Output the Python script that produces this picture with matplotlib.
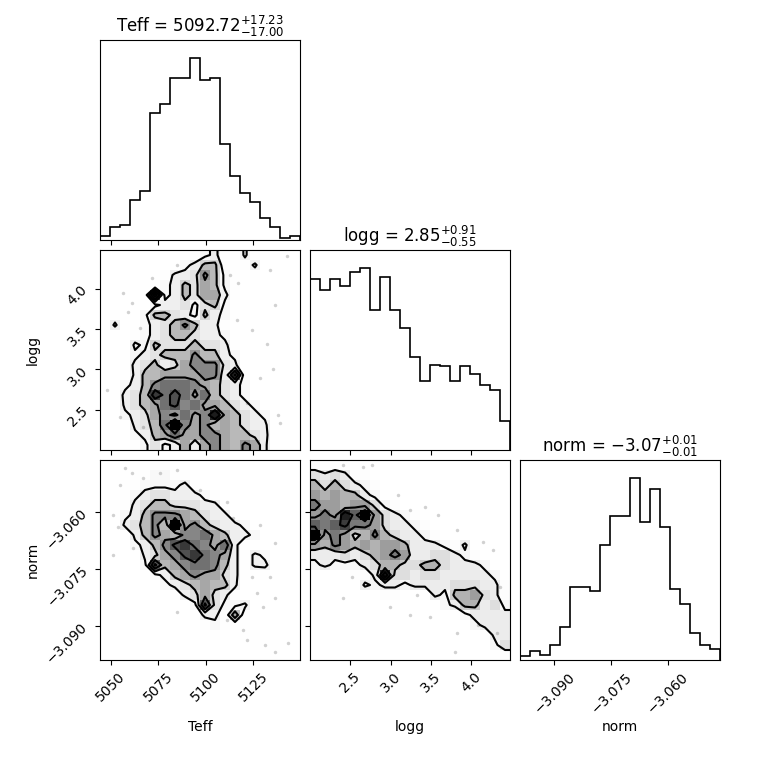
import numpy as np
import matplotlib
matplotlib.use("Agg")
import matplotlib.pyplot as plt
from matplotlib.colors import LinearSegmentedColormap
from matplotlib.ticker import FixedLocator, NullLocator, ScalarFormatter

# parameter names, titles, plot ranges and ticks
labels = ["Teff", "logg", "norm"]
titles = [r"Teff = $5092.72_{-17.00}^{+17.23}$",
          r"logg = $2.85_{-0.55}^{+0.91}$",
          r"norm = $-3.07_{-0.01}^{+0.01}$"]
ranges = [(5044.4, 5149.5), (2.001, 4.478), (-3.0991, -3.0463)]
ticks = [[5050, 5075, 5100, 5125], [2.5, 3.0, 3.5, 4.0], [-3.090, -3.075, -3.060]]

# 1D histograms (20 bins over each range)
teff_counts = [2, 7, 8, 22, 27, 70, 75, 89, 89, 100, 88, 89, 53, 35, 26, 21, 12, 7, 1, 2]
logg_counts = [94, 88, 94, 90, 98, 100, 77, 95, 77, 67, 51, 38, 47, 46, 38, 46, 42, 36, 33, 16]
norm_counts = [2, 5, 3, 8, 18, 40, 40, 38, 63, 79, 79, 100, 76, 94, 73, 39, 31, 15, 8, 6]

# 2D histograms, rows listed from the top of the panel (high y) down, columns left to right
teff_logg = [
    [0,0,0,0,1,0,0,0,0,1,2,3,1,0,3,0,1,0,0,0],
    [0,0,0,0,0,0,0,0,2,3,5,5,1,1,1,3,0,1,0,0],
    [0,0,0,0,0,0,1,3,3,4,7,5,2,1,0,1,0,0,0,0],
    [0,0,1,0,1,0,2,3,5,4,6,5,2,1,0,0,0,0,0,0],
    [0,0,0,0,1,10,2,3,5,4,6,6,3,1,0,0,1,0,0,0],
    [0,0,0,0,0,2,3,3,4,2,4,5,2,0,1,0,0,0,0,0],
    [0,1,0,0,2,5,5,4,3,2,5,3,2,1,0,0,0,0,0,0],
    [0,3,0,1,2,3,4,5,7,5,3,3,1,0,0,1,0,0,0,0],
    [0,0,0,1,2,3,4,5,5,4,3,3,2,0,1,0,0,0,0,0],
    [0,0,0,3,2,5,4,4,4,5,4,4,3,1,0,0,0,0,0,0],
    [0,0,1,2,3,4,5,5,5,7,5,5,3,2,0,0,1,0,0,0],
    [0,0,1,3,4,5,3,4,6,7,7,7,4,3,0,1,0,0,0,0],
    [1,0,0,3,5,5,6,6,6,6,7,7,3,9,1,0,0,0,0,0],
    [0,0,2,3,5,7,8,8,8,7,6,5,4,3,2,0,1,0,0,0],
    [0,1,3,4,5,10,8,9,8,6,8,5,4,3,2,0,0,0,0,0],
    [0,0,3,4,5,6,8,9,7,8,6,6,5,4,3,2,0,1,0,0],
    [0,0,2,3,4,6,7,6,8,6,7,11,6,5,4,3,2,0,0,0],
    [0,1,0,3,4,5,8,12,7,6,7,5,6,5,4,3,3,0,1,0],
    [0,0,0,2,3,5,6,8,6,6,7,7,6,5,5,4,3,1,0,0],
    [0,0,0,1,2,4,2,3,6,3,6,7,6,5,7,6,3,0,0,0],
]
teff_norm = [
    [0,0,0,1,0,1,1,0,0,0,0,0,0,0,0,0,0,0,0,0],
    [0,0,0,1,1,2,2,1,1,0,0,0,0,0,0,0,0,0,0,0],
    [0,0,1,1,2,2,2,2,3,1,0,0,0,0,0,0,0,0,0,0],
    [0,0,1,2,3,4,4,3,3,3,2,1,0,0,0,0,0,0,0,0],
    [0,1,1,3,4,5,5,4,4,4,3,3,1,0,0,0,0,0,0,0],
    [0,0,2,3,5,7,7,7,6,5,4,3,3,1,0,0,0,0,0,0],
    [0,0,3,4,5,7,5,12,6,7,5,4,3,3,2,0,0,0,0,0],
    [0,0,0,3,5,7,6,5,7,7,8,6,5,3,3,2,0,0,0,0],
    [0,0,0,2,3,5,7,9,10,8,7,6,8,3,1,0,0,0,0,0],
    [0,0,0,0,3,4,6,7,9,10,8,7,6,3,1,3,2,0,0,0],
    [0,0,0,0,2,9,5,6,7,8,8,7,5,3,1,3,3,1,0,0],
    [0,0,0,0,0,2,3,5,6,7,6,6,4,3,1,0,1,0,0,0],
    [0,0,0,0,0,0,2,3,4,5,6,5,5,3,0,0,0,0,0,0],
    [0,0,0,0,0,0,0,1,3,4,6,4,3,1,0,0,0,0,0,0],
    [0,0,0,0,0,0,0,0,0,2,9,4,2,2,3,0,0,0,0,0],
    [0,0,0,0,0,0,0,0,0,1,3,3,1,6,1,0,0,0,0,0],
    [0,0,0,0,0,0,0,0,0,0,1,2,1,1,1,0,0,0,0,0],
    [0,0,0,0,0,0,0,0,0,0,0,1,0,0,1,1,0,0,0,0],
    [0,0,0,0,0,0,0,0,0,0,0,0,0,0,0,1,1,1,0,0],
    [0,0,0,0,0,0,0,0,0,0,0,0,0,0,0,0,0,1,0,0],
]
logg_norm = [
    [1,0,1,1,0,0,0,0,0,0,0,0,0,0,0,0,0,0,0,0],
    [4,3,4,3,1,1,0,0,0,0,0,0,0,0,0,0,0,0,0,0],
    [5,4,5,4,3,2,1,0,0,0,0,0,0,0,0,0,0,0,0,0],
    [6,5,6,5,5,3,2,0,0,0,0,0,0,0,0,0,0,0,0,0],
    [7,6,6,5,6,6,4,2,1,0,0,0,0,0,0,0,0,0,0,0],
    [6,7,6,10,8,11,6,4,3,2,1,0,0,0,0,0,0,0,0,0],
    [8,7,8,9,7,7,6,4,3,3,2,1,0,0,0,0,0,0,0,0],
    [11,6,7,6,4,5,7,5,4,3,3,2,1,0,0,0,0,0,0,0],
    [6,5,7,6,5,6,5,6,6,5,3,3,3,2,1,3,0,0,0,0],
    [3,3,3,4,3,4,5,6,7,6,3,3,4,4,3,2,1,0,0,0],
    [2,3,2,2,2,3,4,5,5,4,4,5,5,4,3,3,3,2,0,0],
    [0,0,0,0,1,1,3,10,4,4,3,4,4,3,3,3,3,3,2,0],
    [0,0,0,0,0,3,2,3,3,2,3,3,3,3,4,4,4,3,3,1],
    [0,0,0,0,0,0,0,1,1,0,0,0,3,2,5,5,6,4,3,1],
    [0,0,0,0,0,0,0,0,0,0,0,0,0,2,3,5,5,3,4,2],
    [0,0,0,0,0,0,0,0,0,0,0,0,0,0,0,2,3,3,3,3],
    [0,0,0,0,0,0,0,0,0,0,0,0,0,0,0,0,2,3,3,3],
    [0,0,0,0,0,0,0,0,0,0,0,0,0,0,0,0,0,1,3,3],
    [0,0,0,0,0,0,0,0,0,0,0,0,0,0,0,0,0,0,2,4],
    [0,0,0,0,0,0,0,0,0,0,0,0,0,0,0,0,0,0,0,1],
]

# stray samples lying outside the contours
teff_logg_pts_x = [5056.7, 5061.0, 5059.3, 5065.4, 5054.9, 5067.2, 5116.2, 5124.1, 5112.7, 5117.1, 5142.5,
                   5133.7, 5136.4, 5128.5, 5135.5, 5138.1, 5139.0, 5084.7, 5071.6, 5047.9, 5121.5, 5132.0]
teff_logg_pts_y = [3.94, 3.82, 3.71, 3.51, 2.41, 2.29, 3.61, 3.49, 4.17, 4.07, 4.40,
                   4.23, 3.80, 2.89, 3.01, 2.43, 2.33, 4.29, 4.13, 2.74, 2.58, 3.32]
teff_norm_pts_x = [5057.5, 5061.0, 5054.9, 5051.4, 5054.0, 5051.4, 5061.9, 5067.2, 5075.9, 5084.7, 5097.0,
                   5111.0, 5114.5, 5128.5, 5136.4, 5133.7, 5124.1, 5126.7, 5136.4, 5130.2, 5111.0, 5119.7,
                   5121.5, 5131.1, 5136.4, 5143.4, 5084.7]
teff_norm_pts_y = [-3.0485, -3.0498, -3.0529, -3.0608, -3.0639, -3.0714, -3.0696, -3.0511, -3.0498, -3.0489,
                   -3.0542, -3.0573, -3.0617, -3.0635, -3.0683, -3.0771, -3.0771, -3.0815, -3.0828, -3.0850,
                   -3.0885, -3.0912, -3.0938, -3.0951, -3.0969, -3.0947, -3.0863]
logg_norm_pts_x = [2.414, 2.662, 2.765, 3.095, 3.239, 3.425, 3.590, 3.817, 4.148, 4.272, 4.354,
                   2.517, 2.414, 2.992, 3.322, 3.239, 3.487, 3.817, 4.086, 4.313, 3.797]
logg_norm_pts_y = [-3.0476, -3.0481, -3.0476, -3.0555, -3.0595, -3.0586, -3.0608, -3.0648, -3.0679, -3.0701,
                   -3.0797, -3.0771, -3.0828, -3.0850, -3.0819, -3.0872, -3.0877, -3.0921, -3.0899, -3.0921,
                   -3.0969]

hists = [teff_counts, logg_counts, norm_counts]
grids = {(1, 0): teff_logg, (2, 0): teff_norm, (2, 1): logg_norm}
points = {(1, 0): (teff_logg_pts_x, teff_logg_pts_y),
          (2, 0): (teff_norm_pts_x, teff_norm_pts_y),
          (2, 1): (logg_norm_pts_x, logg_norm_pts_y)}

# contour levels (in counts per bin) and the grey of each filled band
contour_levels = [2.5, 4.5, 6.5, 8.5]
fill_alpha = [0.0, 0.12, 0.2, 0.28]
grey_cmap = LinearSegmentedColormap.from_list("grey_cmap", [(1, 1, 1), (0, 0, 0)])


def hist2d(ax, grid, pts, xr, yr):
    H = np.array(grid, dtype=float)[::-1].T  # H[x, y]
    nx, ny = H.shape
    X = np.linspace(xr[0], xr[1], nx + 1)
    Y = np.linspace(yr[0], yr[1], ny + 1)

    # padded grid so contours close at the edges
    X1 = 0.5 * (X[1:] + X[:-1])
    Y1 = 0.5 * (Y[1:] + Y[:-1])
    H2 = np.zeros((nx + 4, ny + 4))
    H2[2:-2, 2:-2] = H
    H2[2:-2, 1] = H[:, 0]
    H2[2:-2, -2] = H[:, -1]
    H2[1, 2:-2] = H[0]
    H2[-2, 2:-2] = H[-1]
    H2[1, 1] = H[0, 0]
    H2[1, -2] = H[0, -1]
    H2[-2, 1] = H[-1, 0]
    H2[-2, -2] = H[-1, -1]
    dx = X1[1] - X1[0]
    dy = Y1[1] - Y1[0]
    X2 = np.concatenate([X1[0] - dx * np.array([2, 1]), X1, X1[-1] + dx * np.array([1, 2])])
    Y2 = np.concatenate([Y1[0] - dy * np.array([2, 1]), Y1, Y1[-1] + dy * np.array([1, 2])])

    shade = (H.T / H.max()) ** 2
    ax.pcolormesh(X, Y, shade, cmap=grey_cmap, vmin=0, vmax=1, zorder=0)
    ax.plot(pts[0], pts[1], "o", ms=2.5, mew=0, color="k", alpha=0.18, zorder=1)
    ax.contourf(X2, Y2, H2.T, contour_levels + [H.max() + 1],
                colors=[(0, 0, 0, a) for a in fill_alpha], antialiased=False, zorder=2)
    ax.contour(X2, Y2, H2.T, contour_levels, colors="k", linewidths=1.5, zorder=3)
    ax.set_xlim(xr)
    ax.set_ylim(yr)


K = 3
fig, axes = plt.subplots(K, K, figsize=(7.6, 7.6))
lb = 1.0 / 7.6
tr = 7.2 / 7.6
fig.subplots_adjust(left=lb, bottom=lb, right=tr, top=tr, wspace=0.05, hspace=0.05)

for i in range(K):
    for j in range(K):
        ax = axes[i, j]
        if j > i:
            ax.set_frame_on(False)
            ax.set_xticks([])
            ax.set_yticks([])
            continue
        if i == j:
            counts = hists[i]
            edges = np.linspace(ranges[i][0], ranges[i][1], len(counts) + 1)
            ax.stairs(counts, edges, color="k", linewidth=1.2)
            ax.set_xlim(ranges[i])
            ax.set_ylim(0, 1.1 * max(counts))
            ax.set_title(titles[i], fontsize=12)
            ax.yaxis.set_major_locator(NullLocator())
        else:
            hist2d(ax, grids[(i, j)], points[(i, j)], ranges[j], ranges[i])
            ax.yaxis.set_major_locator(FixedLocator(ticks[i]))
            if j == 0:
                ax.yaxis.set_major_formatter(ScalarFormatter())
                for lab in ax.get_yticklabels():
                    lab.set_rotation(45)
                ax.set_ylabel(labels[i])
                ax.yaxis.set_label_coords(-0.3, 0.5)
            else:
                ax.set_yticklabels([])
        ax.xaxis.set_major_locator(FixedLocator(ticks[j]))
        if i == K - 1:
            ax.xaxis.set_major_formatter(ScalarFormatter())
            for lab in ax.get_xticklabels():
                lab.set_rotation(45)
            ax.set_xlabel(labels[j])
            ax.xaxis.set_label_coords(0.5, -0.3)
        else:
            ax.set_xticklabels([])

fig.savefig("out.png", dpi=100)
